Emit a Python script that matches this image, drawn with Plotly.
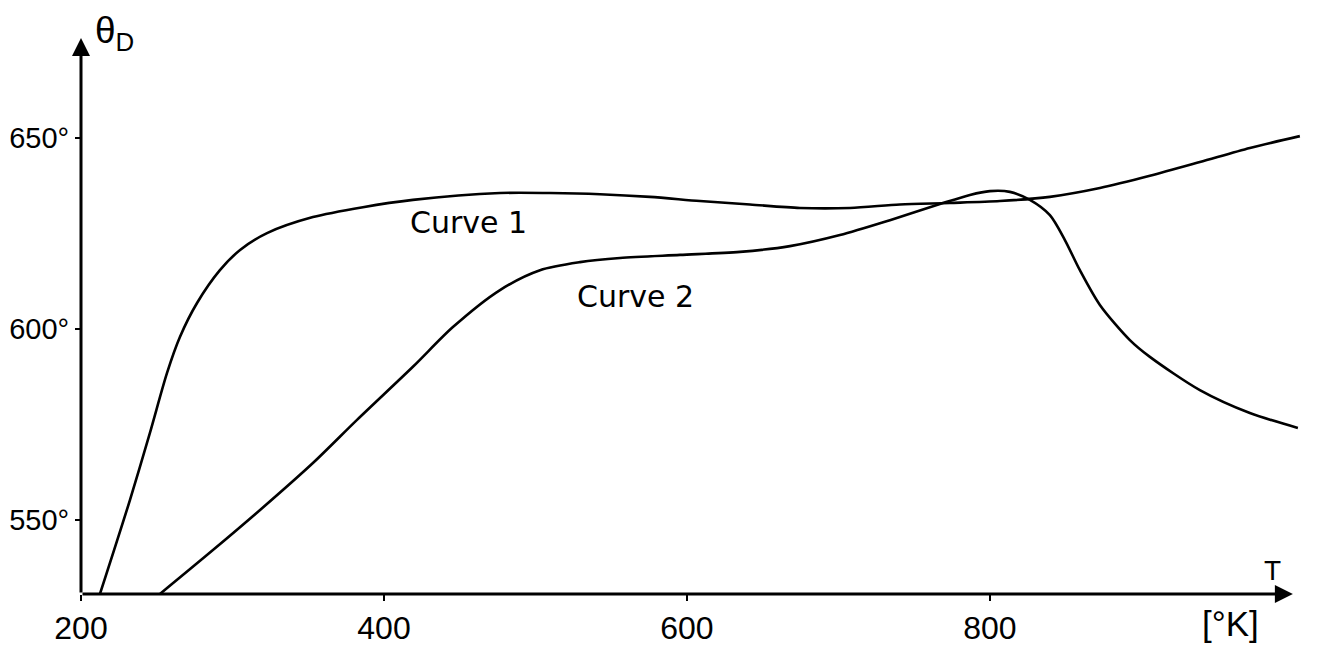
import plotly.graph_objects as go

# Curve 1: Debye temperature vs temperature
t_curve1 = [212.5, 232.3, 245.5, 256.8, 265.3, 276.6, 291.7, 305.0, 322.8, 353.1, 386.1,
            419.1, 476.6, 509.6, 542.6, 575.6, 608.6, 641.6, 674.6, 707.6, 740.6, 773.6,
            806.6, 839.6, 872.6, 905.6, 938.6, 971.6, 1004.6]
theta_curve1 = [530.6, 555.2, 572.8, 588.5, 597.9, 606.8, 615.4, 620.7, 625.1, 629.3, 631.9,
                633.8, 635.6, 635.6, 635.3, 634.6, 633.5, 632.6, 631.7, 631.7, 632.6, 633.0,
                633.5, 634.6, 636.9, 640.1, 643.7, 647.4, 650.5]

# Curve 2
t_curve2 = [252.1, 287.1, 318.2, 353.1, 382.2, 419.1, 445.5, 476.6, 503.0, 529.4, 555.8,
            595.4, 635.0, 668.0, 701.0, 734.0, 767.0, 786.8, 800.0, 813.2, 826.4, 839.6,
            849.5, 859.4, 872.6, 892.4, 905.6, 938.6, 971.6, 1003.3]
theta_curve2 = [530.6, 542.1, 552.6, 564.9, 576.2, 590.1, 600.5, 610.2, 615.4, 617.5, 618.6,
                619.4, 620.2, 621.7, 624.6, 628.5, 632.7, 635.1, 636.1, 635.9, 633.8, 629.8,
                623.3, 615.4, 606.3, 597.1, 592.7, 584.0, 578.0, 574.1]

x_ticks = [200, 400, 600, 800]
x_tick_labels = ["200", "400", "600", "800"]
y_ticks = [550, 600, 650]
y_tick_labels = ["550°", "600°", "650°"]

X_MIN, X_MAX = 200, 1008
Y_MIN, Y_MAX = 530.6, 676.2

fig = go.Figure()
line_style = dict(color="black", width=2.6, shape="spline", smoothing=0.8)
fig.add_trace(go.Scatter(x=t_curve1, y=theta_curve1, mode="lines", line=line_style,
                         showlegend=False, cliponaxis=False))
fig.add_trace(go.Scatter(x=t_curve2, y=theta_curve2, mode="lines", line=line_style,
                         showlegend=False, cliponaxis=False))

fig.update_xaxes(range=[X_MIN, X_MAX], tickvals=x_ticks, ticktext=x_tick_labels,
                 ticks="outside", ticklen=6, tickwidth=2, tickcolor="black",
                 showgrid=False, zeroline=False, showline=False,
                 tickfont=dict(family="Liberation Sans", size=32, color="black"),
                 automargin=False)
fig.update_yaxes(range=[Y_MIN, Y_MAX], tickvals=y_ticks, ticktext=y_tick_labels,
                 ticks="outside", ticklen=5, tickwidth=2, tickcolor="black",
                 showgrid=False, zeroline=False, showline=False,
                 tickfont=dict(family="Liberation Sans", size=29, color="black"),
                 automargin=False, ticklabelstandoff=0)

annotations = [
    # x axis arrow
    dict(x=1000, y=Y_MIN, ax=X_MIN, ay=Y_MIN, xref="x", yref="y", axref="x", ayref="y",
         text="", showarrow=True, arrowhead=2, arrowsize=1.2, arrowwidth=3,
         arrowcolor="black", standoff=0, startstandoff=0),
    # y axis arrow
    dict(x=X_MIN, y=Y_MAX, ax=X_MIN, ay=Y_MIN, xref="x", yref="y", axref="x", ayref="y",
         text="", showarrow=True, arrowhead=2, arrowsize=1.2, arrowwidth=3,
         arrowcolor="black", standoff=0, startstandoff=0),
    dict(x=X_MIN, y=Y_MAX, xref="x", yref="y", xanchor="left", yanchor="top",
         xshift=12, yshift=30, text="θ<sub>D</sub>", showarrow=False,
         font=dict(family="Liberation Sans", size=37, color="black")),
    dict(x=1000, y=Y_MIN, xref="x", yref="y", xanchor="center", yanchor="bottom",
         xshift=-20, yshift=6, text="T", showarrow=False,
         font=dict(family="Liberation Sans", size=28, color="black")),
    dict(x=1000, y=Y_MIN, xref="x", yref="y", xanchor="center", yanchor="top",
         xshift=-62, yshift=-8, text="[°K]", showarrow=False,
         font=dict(family="Liberation Sans", size=35, color="black")),
    dict(x=456, y=628.0, xref="x", yref="y", text="Curve 1", showarrow=False,
         font=dict(family="DejaVu Sans", size=30, color="black")),
    dict(x=566, y=608.4, xref="x", yref="y", text="Curve 2", showarrow=False,
         font=dict(family="DejaVu Sans", size=30, color="black")),
]

fig.update_layout(width=1309, height=646,
                  margin=dict(l=73, r=12, t=30, b=60, pad=0),
                  paper_bgcolor="white", plot_bgcolor="white",
                  annotations=annotations, showlegend=False)

fig.write_html("out.html")
